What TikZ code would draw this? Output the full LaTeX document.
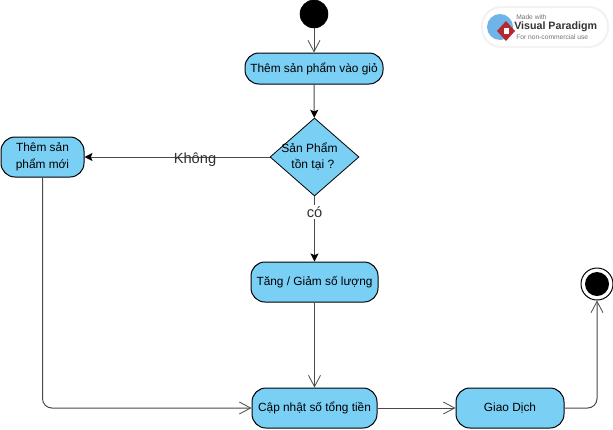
\documentclass[tikz,border=0pt]{standalone}
\usepackage{fontspec}
\setmainfont{Liberation Sans}
\usetikzlibrary{arrows.meta,shapes.geometric,positioning}
\definecolor{fillblue}{HTML}{7ACFF5}
\definecolor{edgegrey}{HTML}{4A4A4A}
\definecolor{globeblue}{HTML}{6FB4E8}
\definecolor{logored}{HTML}{B5282E}
\tikzset{
 act/.style={draw=black,fill=fillblue,line width=0.75pt,rounded corners=10.5pt,align=center,inner sep=0pt,font=\fontsize{8.9pt}{12.5pt}\selectfont},
 dec/.style={draw=black,fill=fillblue,line width=0.6pt,diamond,aspect=1.14,inner sep=0pt,align=center},
 flow/.style={draw=edgegrey,line width=0.75pt,-{Straight Barb[length=8.5pt,width=9pt,line width=0.6pt]}},
 flowf/.style={draw=edgegrey,line width=0.75pt,-{Stealth[length=6pt,width=6pt,inset=1.2pt,fill=black,color=black]}},
 lbl/.style={inner sep=1pt,text=black!80},
}
\begin{document}
\begin{tikzpicture}[x=0.75pt,y=-0.75pt]
\useasboundingbox (0,0) rectangle (613,429);
\fill[white] (0,0) rectangle (613,429);
% logo
\fill[black!5,rounded corners=15pt] (481,6) rectangle (609,48);
\fill[white,rounded corners=14pt] (483,8) rectangle (607,46);
\fill[globeblue] (500,27) circle (13);
\fill[logored] (506,21) -- (515,31) -- (506,41) -- (497,31) -- cycle;
\fill[white] (503.5,27.5) rectangle (508.5,33.5);
\node[anchor=west,inner sep=0,text=black!55,font=\fontsize{5pt}{5pt}\selectfont] (lg1) at (516,17.5) {Made with};
\node[anchor=west,inner sep=0,text=black!80,font=\fontsize{8pt}{10pt}\bfseries\selectfont] (lg2) at (514,27) {Visual Paradigm};
\node[anchor=west,inner sep=0,text=black!55,font=\fontsize{5pt}{5pt}\selectfont] (lg3) at (516,37) {For non-commercial use};
% nodes
\node[circle,fill=black,draw=black,minimum size=21pt,inner sep=0] (start) at (314,14) {};
\node[act,minimum width=103.5pt,minimum height=23.25pt] (add) at (314,68.5) {Thêm sản phẩm vào giỏ};
\node[dec,minimum width=66.75pt,minimum height=58.5pt] (exists) at (314.5,157) {};
\node[inner sep=0,align=center,font=\fontsize{9pt}{12pt}\selectfont] (existst) at (309.5,157) {Sản Phẩm\\ \ \ tồn tại ?};
\node[act,minimum width=62.25pt,minimum height=30pt] (new) at (42.5,157) {Thêm sản\\phẩm mới};
\node[act,minimum width=95.25pt,minimum height=30pt] (qty) at (314.5,282) {Tăng / Giảm số lượng};
\node[act,minimum width=93.75pt,minimum height=30pt] (total) at (314.5,408) {Cập nhật số tổng tiền};
\node[act,minimum width=81pt,minimum height=30pt] (pay) at (510,408) {Giao Dịch};
\node[circle,draw=black,line width=0.75pt,fill=white,minimum size=24pt,inner sep=0] (endo) at (597,284) {};
\node[circle,fill=black,minimum size=18pt,inner sep=0] (endi) at (597,284) {};
% connectors
\draw[flow] (start) -- (add);
\draw[flowf] (add) -- (exists);
\draw[flowf] (exists) -- (new);
\draw[flowf] (exists) -- (qty) node[pos=0.238,fill=white,inner sep=1pt,text=black!80,font=\fontsize{11pt}{12pt}\selectfont] (yes) {có};
\draw[flow] (qty) -- (total);
\draw[flow] (total) -- (pay);
\draw[flow,rounded corners=7pt] (new.south) -- (new.south |- total.west) -- (total.west);
\draw[flow,rounded corners=7pt] (pay.east) -- (endo.south |- pay.east) -- (endo.south);
\node[lbl,font=\fontsize{11pt}{12pt}\selectfont] (no) at (195,160) {Không};
\end{tikzpicture}
\end{document}
